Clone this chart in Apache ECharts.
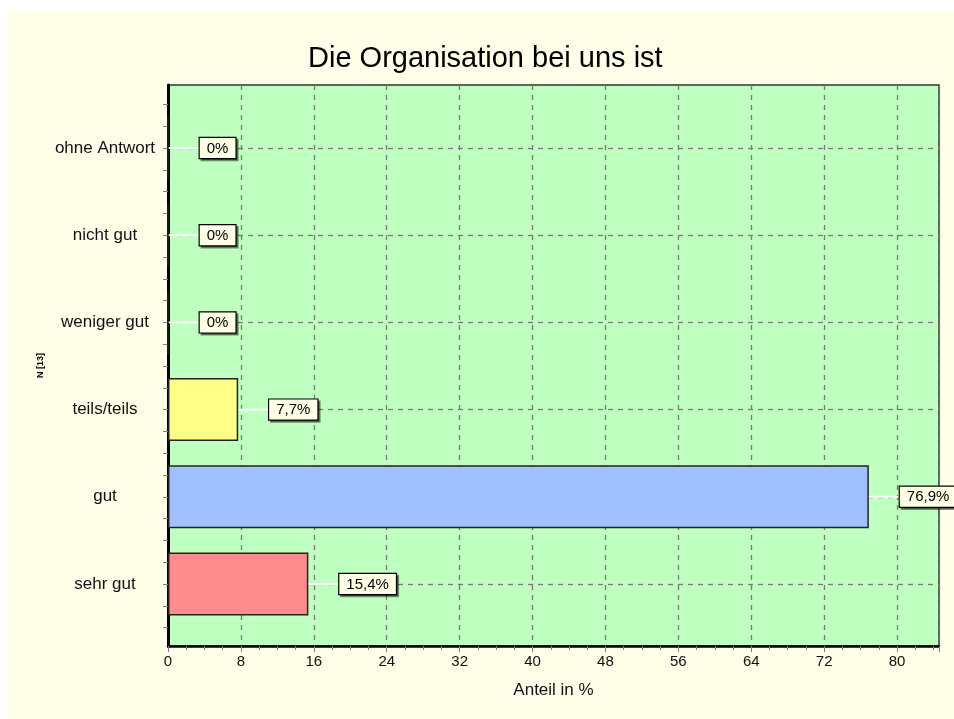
<!DOCTYPE html>
<html>
<head>
<meta charset="utf-8">
<script src="https://cdn.jsdelivr.net/npm/echarts@6/dist/echarts.min.js"></script>
<style>
html,body{margin:0;padding:0;background:#ffffff;}
#chart{width:954px;height:719px;}
</style>
</head>
<body>
<div id="chart"></div>
<script>
// ---- data ----
var titleText = 'Die Organisation bei uns ist';
var categories = ['ohne Antwort', 'nicht gut', 'weniger gut', 'teils/teils', 'gut', 'sehr gut'];
var values = [0, 0, 0, 7.7, 76.9, 15.4];
var xTickLabels = ['0', '8', '16', '24', '32', '40', '48', '56', '64', '72', '80'];
var xAxisName = 'Anteil in %';
var yAxisName = 'N [13]';

// ---- styles ----
var barColors = ['#ffff88', '#ffff88', '#ffff88', '#ffff88', '#a0c0ff', '#ff8c8c'];
var FONT = '"Liberation Sans", Arial, sans-serif';
var X_MAX = 84.6;
var Y_MIN = -0.711, Y_MAX = 5.722;

var yTickVals = [];
for (var t = -0.5; t <= 5.5 + 1e-9; t += 0.25) yTickVals.push(Math.round(t * 100) / 100);

function fmt(v) { return String(v).replace('.', ',') + '%'; }

var chart = echarts.init(document.getElementById('chart'), null, {renderer: 'canvas'});
var option = {
  backgroundColor: '#ffffff',
  animation: false,
  graphic: [{
    type: 'rect', z: -100, silent: true,
    shape: {x: 8, y: 10, width: 946, height: 709},
    style: {fill: '#fffee8'}
  }],
  title: {
    text: titleText,
    left: 308, top: 44, padding: 0,
    textStyle: {fontFamily: FONT, fontSize: 29, fontWeight: 'normal', color: '#000'}
  },
  grid: [
    {left: 168, right: 15, top: 85, bottom: 73, show: true,
     backgroundColor: '#bfffbf', borderColor: '#333', borderWidth: 1.5},
    {left: 168, right: 15, top: 148, bottom: 135, show: false}
  ],
  xAxis: [
    {gridIndex: 0, type: 'value', min: 0, max: X_MAX, interval: 8,
     axisLine: {show: true, onZero: false, lineStyle: {color: '#000', width: 2.5}},
     axisTick: {show: true, length: 6, lineStyle: {color: '#808080'}},
     minorTick: {show: true, splitNumber: 4, length: 4, lineStyle: {color: '#808080'}},
     axisLabel: {fontFamily: FONT, fontSize: 15, color: '#111', margin: 8, showMaxLabel: false,
       formatter: function (v) { var i = Math.round(v / 8); return (Math.abs(v - i * 8) < 1e-6 && xTickLabels[i] !== undefined) ? xTickLabels[i] : ''; }},
     splitLine: {show: true, lineStyle: {color: '#7a7a7a', type: [5, 5], width: 1.3}},
     name: xAxisName, nameLocation: 'middle', nameGap: 36,
     nameTextStyle: {fontFamily: FONT, fontSize: 17, color: '#111'}},
    {gridIndex: 1, type: 'value', min: 0, max: X_MAX, show: false,
     axisLine: {show: false, onZero: false}, axisTick: {show: false}, axisLabel: {show: false},
     splitLine: {show: false}}
  ],
  yAxis: [
    {gridIndex: 0, type: 'value', min: Y_MIN, max: Y_MAX,
     axisLine: {show: true, onZero: false, lineStyle: {color: '#000', width: 3}},
     axisTick: {show: true, length: 5, customValues: yTickVals, lineStyle: {color: '#808080'}},
     axisLabel: {show: false},
     splitLine: {show: false},
     name: yAxisName, nameLocation: 'middle', nameGap: 123,
     nameTextStyle: {fontFamily: FONT, fontSize: 9, color: '#000', fontWeight: 'bold'}},
    {gridIndex: 1, type: 'category', data: categories, inverse: true, boundaryGap: false,
     axisLine: {show: false, onZero: false}, axisTick: {show: false},
     axisLabel: {fontFamily: FONT, fontSize: 17, color: '#111', align: 'center', margin: 63},
     splitLine: {show: true, lineStyle: {color: '#7a7a7a', type: [5, 5], width: 1.3}}}
  ],
  series: [{
    type: 'bar', xAxisIndex: 1, yAxisIndex: 1, barWidth: 63, clip: false,
    data: values.map(function (v, i) {
      return {value: v, itemStyle: {color: barColors[i], borderColor: '#222', borderWidth: 1.5}};
    }),
    label: {
      show: true, position: 'right', distance: 0,
      formatter: function (p) { return '{line| }{box|' + fmt(p.value) + '}'; },
      rich: {
        line: {width: 31, height: 2, backgroundColor: '#ffffff'},
        box: {fontFamily: FONT, fontSize: 15, color: '#000', backgroundColor: '#ffffe6',
              borderColor: '#000', borderWidth: 1.2, padding: [3, 7, 2, 7],
              shadowColor: 'rgba(0,0,0,0.45)', shadowOffsetX: 2, shadowOffsetY: 2, shadowBlur: 0}
      }
    }
  }]
};
chart.setOption(option);
</script>
</body>
</html>
